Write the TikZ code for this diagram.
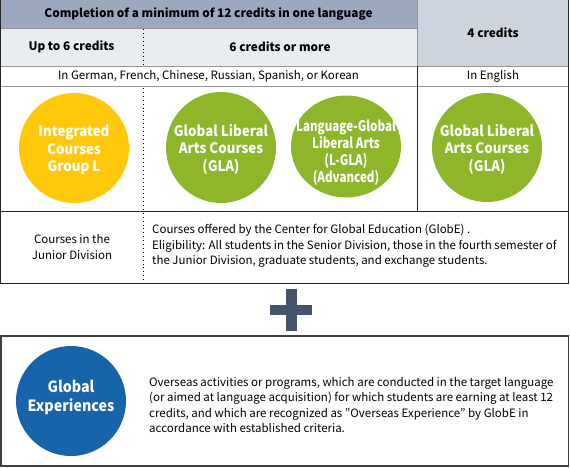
\documentclass[tikz,border=0pt]{standalone}
\usepackage{fontspec}
\setmainfont{Noto Sans CJK JP}
\newfontfamily\circfont{Noto Sans CJK JP}[FakeStretch=0.92]
\newfontfamily\narrowfont{Noto Sans CJK JP}[FakeStretch=0.8]
\definecolor{hdrdark}{RGB}{155,168,190}
\definecolor{hdrright}{RGB}{206,212,222}
\definecolor{hdrlight}{RGB}{233,236,241}
\definecolor{cyellow}{RGB}{255,200,10}
\definecolor{cgreen}{RGB}{141,182,43}
\definecolor{cblue}{RGB}{24,100,170}
\definecolor{cplus}{RGB}{68,84,106}
\definecolor{gline}{RGB}{150,150,150}
\tikzset{
  hdrtext/.style={font=\bfseries\fontsize{11.8}{14}\selectfont, inner sep=0pt},
  celltext/.style={font=\fontsize{11.5}{15.5}\selectfont, inner sep=0pt},
  circtext/.style={inner sep=0pt, text=white, align=center,
    font=\circfont\bfseries\fontsize{14.5}{17.5}\selectfont},
  dotline/.style={line width=1.1pt, dash pattern=on 0.9pt off 3pt, black},
  darkline/.style={line width=0.9pt, black!85},
  greyline/.style={line width=0.8pt, gline},
}
\begin{document}
\begin{tikzpicture}[x=1pt, y=-1pt]
\useasboundingbox (0,0) rectangle (570,467);
% header fills
\fill[hdrdark] (0,0) rectangle (417,28);
\fill[hdrlight] (0,28) rectangle (417,66);
\fill[hdrright] (417,0) rectangle (569,66);
% header texts
\node[hdrtext] (h1) at (208.5,14) {Completion of a minimum of 12 credits in one language};
\node[hdrtext] (h2) at (493,33) {4 credits};
\node[hdrtext] (h3) at (71.5,47) {Up to 6 credits};
\node[hdrtext] (h4) at (280,47) {6 credits or more};
\node[celltext] (r1) at (208.5,76.5) {In German, French, Chinese, Russian, Spanish, or Korean};
\node[celltext] (r2) at (493,76.5) {In English};
% lines
\draw[greyline] (0,28) -- (417,28);
\draw[greyline] (0,66) -- (569,66);
\draw[greyline] (0,86.5) -- (569,86.5);
\draw[greyline] (417,0) -- (417,66);
\draw[darkline] (417,66) -- (417,211);
\draw[darkline] (0,211) -- (569,211);
\draw[darkline] (0.6,0) -- (0.6,283) -- (568.6,283) -- (568.6,0);
\draw[dotline] (143.5,29) -- (143.5,66);
\draw[dotline] (143.5,88) -- (143.5,283);
% circles
\fill[cyellow] (74,148) ellipse [x radius=55, y radius=55];
\node[circtext] (c1) at (74,150) {Integrated\\Courses\\Group L};
\fill[cgreen] (221,147.5) ellipse [x radius=55, y radius=55.5];
\node[circtext] (c2) at (221,149) {Global Liberal\\Arts Courses\\(GLA)};
\fill[cgreen] (346,146.5) ellipse [x radius=55, y radius=51];
\node[circtext, font=\narrowfont\bfseries\fontsize{14.5}{17}\selectfont] (c3) at (346,153) {Language-Global\\Liberal Arts\\(L-GLA)\\(Advanced)};
\fill[cgreen] (487,147.5) ellipse [x radius=55, y radius=54.5];
\node[circtext] (c4) at (487,149) {Global Liberal\\Arts Courses\\(GLA)};
% junior division row
\node[celltext, align=center] (j1) at (72,247) {Courses in the\\Junior Division};
\node[celltext, align=left, anchor=west] (j2) at (152,246) {Courses offered by the Center for Global Education (GlobE) .\\Eligibility: All students in the Senior Division, those in the fourth semester of\\the Junior Division, graduate students, and exchange students.};
% plus
\fill[cplus] (286,289) rectangle (297,331);
\fill[cplus] (270,305) rectangle (312,315);
\coordinate (plus) at (291.5,310);
% bottom box
\draw[line width=1.2pt, black!75] (1,336) rectangle (568.5,466);
\fill[cblue] (71,401) ellipse [x radius=55, y radius=55];
\node[circtext, font=\circfont\bfseries\fontsize{15.5}{19}\selectfont] (ge) at (71,397) {Global\\Experiences};
\node[celltext, align=left, anchor=west] (gt) at (149,405) {Overseas activities or programs, which are conducted in the target language\\(or aimed at language acquisition) for which students are earning at least 12\\credits, and which are recognized as "Overseas Experience" by GlobE in\\accordance with established criteria.};
\end{tikzpicture}
\end{document}
